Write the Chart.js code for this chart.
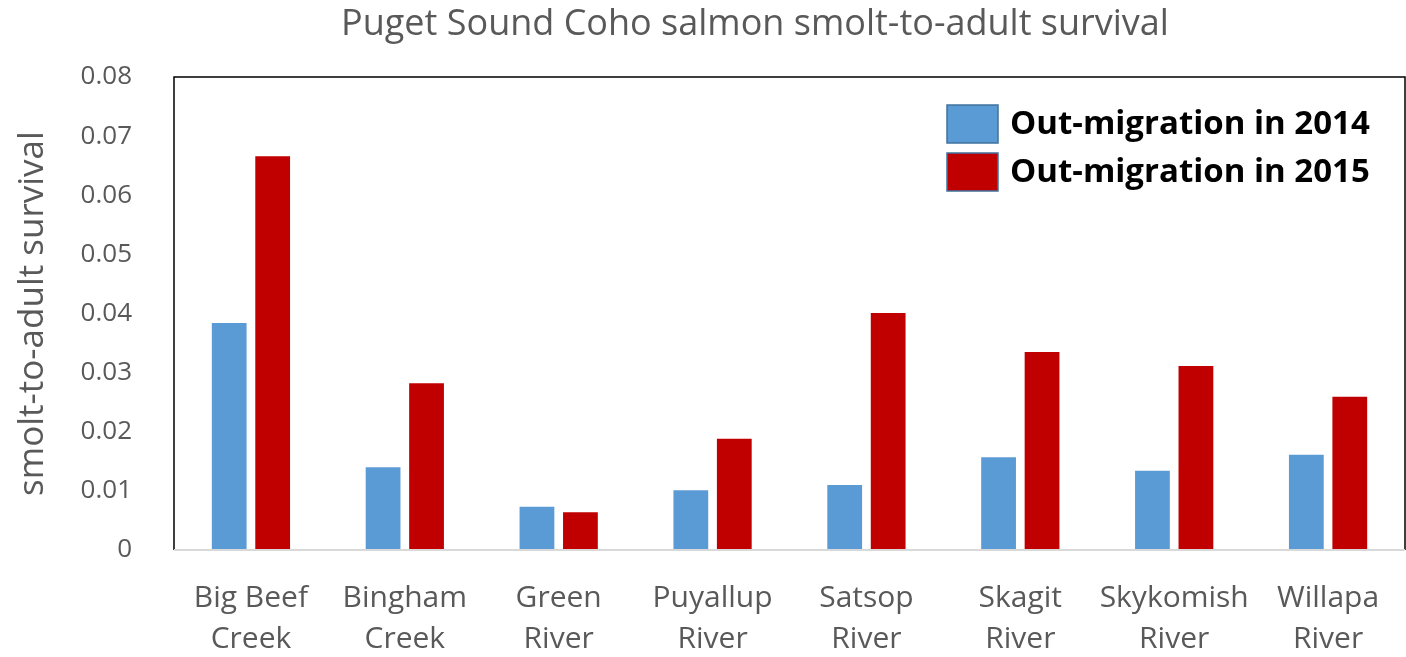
<!DOCTYPE html>
<html>
<head>
<meta charset="utf-8">
<script src="https://cdn.jsdelivr.net/npm/chart.js@4.4.1/dist/chart.umd.min.js"></script>
<style>
  html, body { margin: 0; padding: 0; background: #fff; }
  #wrap { width: 1406px; height: 657px; }
</style>
</head>
<body>
<div id="wrap"><canvas id="salmonChart" width="1406" height="657"></canvas></div>
<script>
// survival rates per stream
const streams = [
  ['Big Beef', 'Creek'], ['Bingham', 'Creek'], ['Green', 'River'], ['Puyallup', 'River'],
  ['Satsop', 'River'], ['Skagit', 'River'], ['Skykomish', 'River'], ['Willapa', 'River']
];
const survival2014 = [0.0384, 0.0140, 0.0073, 0.0101, 0.0110, 0.0157, 0.0134, 0.0161];
const survival2015 = [0.0666, 0.0282, 0.0064, 0.0188, 0.0401, 0.0335, 0.0311, 0.0259];
const yTicks = [0, 0.01, 0.02, 0.03, 0.04, 0.05, 0.06, 0.07, 0.08];
const chartTitle = 'Puget Sound Coho salmon smolt-to-adult survival';

const FONT = '"Open Sans", Lato, sans-serif';
const GREY = '#595959';

// title sits a bit right of the canvas centre
const titlePlugin = {
  id: 'topTitle',
  afterDraw(chart) {
    const { ctx } = chart;
    ctx.save();
    ctx.font = '36px ' + FONT;
    ctx.fillStyle = GREY;
    ctx.textAlign = 'center';
    ctx.textBaseline = 'middle';
    ctx.fillText(chartTitle, 755, 25);
    ctx.restore();
  }
};

// black frame on three sides, light grey baseline
const framePlugin = {
  id: 'frame',
  afterDatasetsDraw(chart) {
    const { ctx, chartArea: a } = chart;
    ctx.save();
    ctx.strokeStyle = '#000';
    ctx.lineWidth = 1.5;
    ctx.beginPath();
    ctx.moveTo(a.left, a.bottom);
    ctx.lineTo(a.left, a.top);
    ctx.lineTo(a.right, a.top);
    ctx.lineTo(a.right, a.bottom);
    ctx.stroke();
    ctx.strokeStyle = '#d9d9d9';
    ctx.lineWidth = 2;
    ctx.beginPath();
    ctx.moveTo(a.left, a.bottom);
    ctx.lineTo(a.right, a.bottom);
    ctx.stroke();
    ctx.restore();
  }
};

// legend drawn inside the plot, top right
const insideLegend = {
  id: 'insideLegend',
  afterDraw(chart) {
    const { ctx, chartArea: a } = chart;
    ctx.save();
    ctx.font = 'bold 33px ' + FONT;
    ctx.textBaseline = 'middle';
    chart.data.datasets.forEach((ds, i) => {
      const x = a.left + 773;
      const y = a.top + 28 + i * 48;
      ctx.fillStyle = ds.backgroundColor;
      ctx.fillRect(x, y, 51, 38);
      ctx.strokeStyle = '#41719c';
      ctx.lineWidth = 1.5;
      ctx.strokeRect(x, y, 51, 38);
      ctx.fillStyle = '#000';
      ctx.fillText(ds.label, x + 63, y + 20);
    });
    ctx.restore();
  }
};

const ctx = document.getElementById('salmonChart').getContext('2d');

new Chart(ctx, {
  type: 'bar',
  data: {
    labels: streams,
    datasets: [
      {
        label: 'Out-migration in 2014',
        data: survival2014,
        backgroundColor: '#5b9bd5',
        categoryPercentage: 0.565,
        barPercentage: 0.8
      },
      {
        label: 'Out-migration in 2015',
        data: survival2015,
        backgroundColor: '#c00000',
        categoryPercentage: 0.565,
        barPercentage: 0.8
      }
    ]
  },
  options: {
    responsive: false,
    animation: false,
    layout: { padding: { left: 0, right: 1, top: 77, bottom: 0 } },
    plugins: {
      legend: { display: false },
      tooltip: { enabled: false },
      title: { display: false }
    },
    scales: {
      x: {
        grid: { display: false },
        border: { display: false },
        ticks: {
          color: GREY,
          font: { family: FONT, size: 30, lineHeight: 1.37 },
          padding: 20,
          maxRotation: 0,
          autoSkip: false
        },
        afterFit(scale) { scale.height = 107; }
      },
      y: {
        min: 0,
        max: 0.08,
        grid: { display: false },
        border: { display: false },
        afterBuildTicks(scale) {
          scale.ticks = yTicks.map(v => ({ value: v }));
        },
        ticks: {
          color: GREY,
          font: { family: FONT, size: 26 },
          padding: 34,
          callback: v => v === 0 ? '0' : v.toFixed(2)
        },
        title: {
          display: true,
          text: 'smolt-to-adult survival',
          color: GREY,
          font: { family: FONT, size: 35 },
          padding: { top: 12, bottom: 0 }
        },
        afterFit(scale) { scale.width = 174; }
      }
    }
  },
  plugins: [titlePlugin, framePlugin, insideLegend]
});
</script>
</body>
</html>
